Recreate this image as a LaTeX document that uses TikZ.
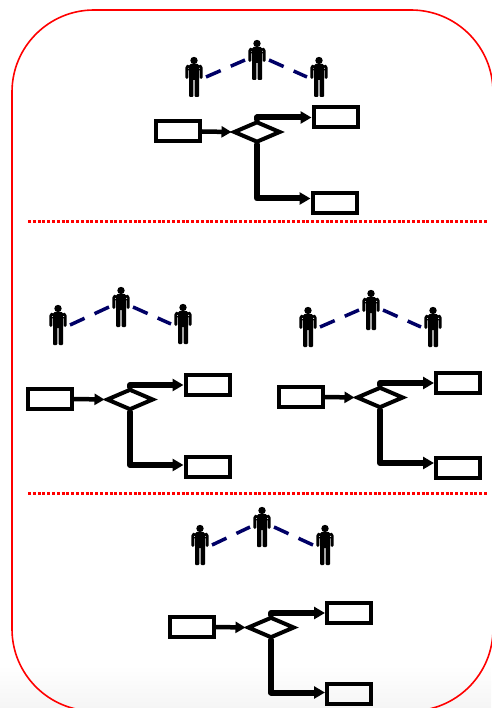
\documentclass[tikz,border=0pt]{standalone}
\usetikzlibrary{arrows.meta}
\usetikzlibrary{shapes.geometric}

\tikzset{
  box/.style = {draw, line width = 4pt, line join = miter, minimum width = 44pt, minimum height = 20pt, inner sep = 0},
  gate/.style = {draw, diamond, line width = 4pt, line join = miter, aspect = 2, minimum width = 47pt, minimum height = 21pt, inner sep = 0},
  person/.style = {minimum width = 24pt, minimum height = 40pt, inner sep = 0, outer sep = 0},
  link/.style = {draw = navy, line width = 3.5pt, line cap = butt, dash pattern = on 16pt off 11pt},
  feed/.style = {line width = 4.5pt, -{Triangle[length = 10pt, width = 11pt]}},
  branch/.style = {line width = 6pt, -{Triangle[length = 11pt, width = 12pt]}},
  divider/.style = {red, line width = 3pt, line cap = butt, dash pattern = on 3pt off 1.8pt},
  figure/.pic = {
    \fill (0, -16.5) circle (3.7);
    \fill[rounded corners = 1.5pt] (-5, -13) rectangle (5, 3);
    \fill[rounded corners = 1.5pt] (-5, -13) -- (-8.6, -11) -- (-8.6, 2) -- (-5.7, 2) -- (-5.7, -8) -- (-5, -8) -- cycle;
    \fill[rounded corners = 1.5pt] (5, -13) -- (8.6, -11) -- (8.6, 2) -- (5.7, 2) -- (5.7, -8) -- (5, -8) -- cycle;
    \fill[rounded corners = 1pt] (-5, 0) rectangle (-0.7, 20);
    \fill[rounded corners = 1pt] (0.7, 0) rectangle (5, 20);
  }
}
\definecolor{navy}{HTML}{000066}
\definecolor{haze}{HTML}{F5F5F5}

\begin{document}
\begin{tikzpicture}[x = 1pt, y = -1pt, line cap = round, line join = round]
  \useasboundingbox (0, 0) rectangle (491, 708);
  \shade[top color = white, bottom color = haze] (0, 665) rectangle (491, 708);

  \draw[red, line width = 1.6pt, rounded corners = 82pt] (12, 10) rectangle (493, 711);

  \draw[divider] (28, 221.5) -- (487, 221.5);
  \draw[divider] (28, 493) -- (487, 493);

  % name/box in/gate/box up/box down/arrow offset/people
  \foreach \n/\ax/\ay/\dx/\dy/\bx/\by/\cx/\cy/\off/\lx/\ly/\mx/\my/\rx/\ry in {
    one/178/131.5/257/132/335.5/117.5/334.5/203/4.5/194/77/257/60/319/77,
    two/50/399/130/399.5/207.5/385/207.5/467/2/58/325/121/307/183/324,
    three/301/397/380/397.5/458/383/458/468/5/308/327/371/310/433/327,
    four/192/627/271/627.5/349/613/349/693.5/1/200/545/262/527/325/545} {
    \node[box] (a\n) at (\ax, \ay) {};
    \node[gate] (d\n) at (\dx, \dy) {};
    \node[box] (b\n) at (\bx, \by) {};
    \node[box] (c\n) at (\cx, \cy) {};
    \draw[feed] (a\n.east) -- (d\n.west);
    \draw[branch] (d\n.north) |- (b\n.west);
    \draw[branch] (d\n.south) |- ([yshift = \off pt]c\n.west);

    \node[person] (l\n) at (\lx, \ly) {};
    \node[person] (m\n) at (\mx, \my) {};
    \node[person] (r\n) at (\rx, \ry) {};
    \pic at (l\n) {figure};
    \pic at (m\n) {figure};
    \pic at (r\n) {figure};
    \draw[link] (l\n.east) -- (m\n.west);
    \draw[link] (m\n.east) -- (r\n.west);
  }
\end{tikzpicture}
\end{document}
